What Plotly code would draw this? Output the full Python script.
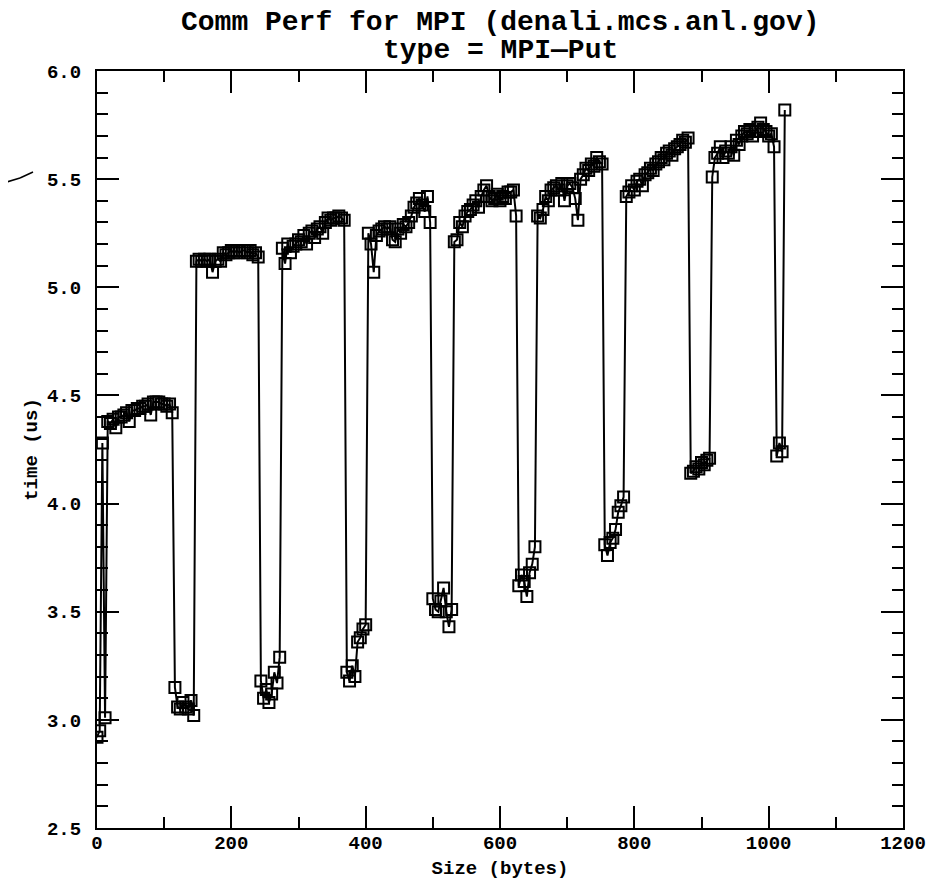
import plotly.graph_objects as go

sizes = [
    0, 4, 8, 12, 16, 20, 24, 28, 32, 36, 40, 44, 48, 52, 56, 60,
    64, 68, 72, 76, 80, 84, 88, 92, 96, 100, 104, 108, 112, 116, 120, 124,
    128, 132, 136, 140, 144, 148, 152, 156, 160, 164, 168, 172, 176, 180, 184, 188,
    192, 196, 200, 204, 208, 212, 216, 220, 224, 228, 232, 236, 240, 244, 248, 252,
    256, 260, 264, 268, 272, 276, 280, 284, 288, 292, 296, 300, 304, 308, 312, 316,
    320, 324, 328, 332, 336, 340, 344, 348, 352, 356, 360, 364, 368, 372, 376, 380,
    384, 388, 392, 396, 400, 404, 408, 412, 416, 420, 424, 428, 432, 436, 440, 444,
    448, 452, 456, 460, 464, 468, 472, 476, 480, 484, 488, 492, 496, 500, 504, 508,
    512, 516, 520, 524, 528, 532, 536, 540, 544, 548, 552, 556, 560, 564, 568, 572,
    576, 580, 584, 588, 592, 596, 600, 604, 608, 612, 616, 620, 624, 628, 632, 636,
    640, 644, 648, 652, 656, 660, 664, 668, 672, 676, 680, 684, 688, 692, 696, 700,
    704, 708, 712, 716, 720, 724, 728, 732, 736, 740, 744, 748, 752, 756, 760, 764,
    768, 772, 776, 780, 784, 788, 792, 796, 800, 804, 808, 812, 816, 820, 824, 828,
    832, 836, 840, 844, 848, 852, 856, 860, 864, 868, 872, 876, 880, 884, 888, 892,
    896, 900, 904, 908, 912, 916, 920, 924, 928, 932, 936, 940, 944, 948, 952, 956,
    960, 964, 968, 972, 976, 980, 984, 988, 992, 996, 1000, 1004, 1008, 1012, 1016, 1020,
    1024,
]

times = [
    # 0 .. 12
    2.92, 2.95, 4.28, 3.01,
    # 16 .. 112
    4.38, 4.37, 4.39, 4.35, 4.40, 4.40, 4.41, 4.42, 4.38, 4.43,
    4.43, 4.44, 4.44, 4.45, 4.45, 4.46, 4.41, 4.47, 4.47, 4.47,
    4.46, 4.46, 4.45, 4.46, 4.42,
    # 116 .. 144
    3.15, 3.06, 3.05, 3.08, 3.06, 3.05, 3.09, 3.02,
    # 148 .. 240
    5.12, 5.13, 5.12, 5.13, 5.12, 5.13, 5.07, 5.12, 5.13, 5.12,
    5.16, 5.15, 5.16, 5.17, 5.16, 5.17, 5.16, 5.17, 5.17, 5.16,
    5.17, 5.15, 5.16, 5.14,
    # 244 .. 272
    3.18, 3.10, 3.14, 3.08, 3.12, 3.22, 3.17, 3.29,
    # 276 .. 368
    5.18, 5.11, 5.20, 5.16, 5.19, 5.20, 5.22, 5.21, 5.24, 5.20,
    5.25, 5.26, 5.23, 5.27, 5.28, 5.25, 5.30, 5.32, 5.31, 5.32,
    5.32, 5.33, 5.32, 5.31,
    # 372 .. 400
    3.22, 3.18, 3.25, 3.20, 3.36, 3.38, 3.42, 3.44,
    # 404 .. 496
    5.25, 5.20, 5.07, 5.24, 5.26, 5.27, 5.28, 5.27, 5.28, 5.22,
    5.21, 5.27, 5.25, 5.29, 5.28, 5.30, 5.33, 5.37, 5.39, 5.41,
    5.38, 5.35, 5.42, 5.30,
    # 500 .. 528
    3.56, 3.51, 3.50, 3.55, 3.61, 3.50, 3.43, 3.51,
    # 532 .. 624
    5.21, 5.22, 5.30, 5.28, 5.33, 5.35, 5.36, 5.38, 5.40, 5.37,
    5.42, 5.45, 5.47, 5.42, 5.40, 5.41, 5.43, 5.40, 5.42, 5.41,
    5.44, 5.44, 5.45, 5.33,
    # 628 .. 652
    3.62, 3.67, 3.64, 3.57, 3.68, 3.72, 3.80,
    # 656 .. 752
    5.33, 5.32, 5.36, 5.42, 5.40, 5.45, 5.46, 5.47, 5.45, 5.48,
    5.40, 5.47, 5.48, 5.46, 5.41, 5.31, 5.50, 5.52, 5.55, 5.54,
    5.57, 5.56, 5.60, 5.58, 5.57,
    # 756 .. 784
    3.81, 3.76, 3.82, 3.84, 3.88, 3.96, 3.99, 4.03,
    # 788 .. 880
    5.42, 5.44, 5.47, 5.45, 5.49, 5.50, 5.47, 5.52, 5.53, 5.55,
    5.54, 5.57, 5.58, 5.60, 5.59, 5.62, 5.63, 5.61, 5.64, 5.65,
    5.66, 5.68, 5.67, 5.69,
    # 884 .. 912
    4.14, 4.15, 4.17, 4.16, 4.19, 4.18, 4.20, 4.21,
    # 916 .. 1008
    5.51, 5.60, 5.62, 5.65, 5.60, 5.63, 5.62, 5.65, 5.61, 5.68,
    5.66, 5.70, 5.72, 5.71, 5.73, 5.70, 5.72, 5.74, 5.76, 5.73,
    5.72, 5.70, 5.71, 5.65,
    # 1012 .. 1024
    4.22, 4.28, 4.24, 5.82,
]

x_ticks = [0, 200, 400, 600, 800, 1000, 1200]
x_tick_labels = ["0", "200", "400", "600", "800", "1000", "1200"]
y_ticks = [2.5, 3.0, 3.5, 4.0, 4.5, 5.0, 5.5, 6.0]
y_tick_labels = ["2.5", "3.0", "3.5", "4.0", "4.5", "5.0", "5.5", "6.0"]

title_line1 = "Comm Perf for MPI (denali.mcs.anl.gov)"
title_line2 = "type = MPI\u2014Put"

FONT = "Liberation Mono, DejaVu Sans Mono, monospace"

fig = go.Figure()
fig.add_trace(go.Scatter(
    x=sizes, y=times, mode="lines+markers",
    line=dict(color="black", width=2),
    marker=dict(symbol="square-open", size=11, color="black",
                line=dict(color="black", width=2)),
    showlegend=False, hoverinfo="x+y",
))

axis_common = dict(
    showgrid=False, zeroline=False,
    showline=True, linecolor="black", linewidth=2, mirror="ticks",
    ticks="inside", ticklen=22, tickwidth=2, tickcolor="black",
    tickfont=dict(family=FONT, size=19, color="black", weight="bold"),
)

# page pixel -> paper helpers for the small stray pen stroke at upper left
def px_to_paper_x(px):
    return (px - 97) / 806

def py_to_paper_y(py):
    return (828 - py) / 757

stroke_pts = [(0, 184), (20, 178), (33, 172)]
stroke_shapes = []
for (xa, ya), (xb, yb) in zip(stroke_pts[:-1], stroke_pts[1:]):
    stroke_shapes.append(dict(
        type="line", xref="paper", yref="paper",
        x0=px_to_paper_x(xa), y0=py_to_paper_y(ya),
        x1=px_to_paper_x(xb), y1=py_to_paper_y(yb),
        line=dict(color="black", width=1.5),
    ))

fig.update_layout(
    width=949, height=883,
    paper_bgcolor="white", plot_bgcolor="white",
    margin=dict(l=89, r=54, t=63, b=63, autoexpand=False),
    xaxis=dict(
        range=[0, 1200], tickvals=x_ticks, ticktext=x_tick_labels,
        minor=dict(dtick=100, tick0=0, ticklen=11, tickwidth=2,
                   tickcolor="black", ticks="inside"),
        ticklabelstandoff=-4,
        title=dict(text="Size (bytes)", font=dict(family=FONT, size=19, color="black",
                                                  weight="bold"),
                   standoff=7),
        **axis_common,
    ),
    yaxis=dict(
        range=[2.5, 6.0], tickvals=y_ticks, ticktext=y_tick_labels,
        minor=dict(dtick=0.1, tick0=2.5, ticklen=11, tickwidth=2,
                   tickcolor="black", ticks="inside"),
        ticklabelstandoff=10,
        title=dict(text="time (us)", font=dict(family=FONT, size=19, color="black",
                                               weight="bold"),
                   standoff=4),
        **axis_common,
    ),
    annotations=[
        dict(text=title_line1, xref="paper", yref="paper", x=0.5, y=1.0641,
             xanchor="center", yanchor="middle", showarrow=False,
             font=dict(family=FONT, size=28, color="black", weight="bold")),
        dict(text=title_line2, xref="paper", yref="paper", x=0.5, y=1.0271,
             xanchor="center", yanchor="middle", showarrow=False,
             font=dict(family=FONT, size=28, color="black", weight="bold")),
    ],
    shapes=stroke_shapes,
)

fig.write_html("out.html")
